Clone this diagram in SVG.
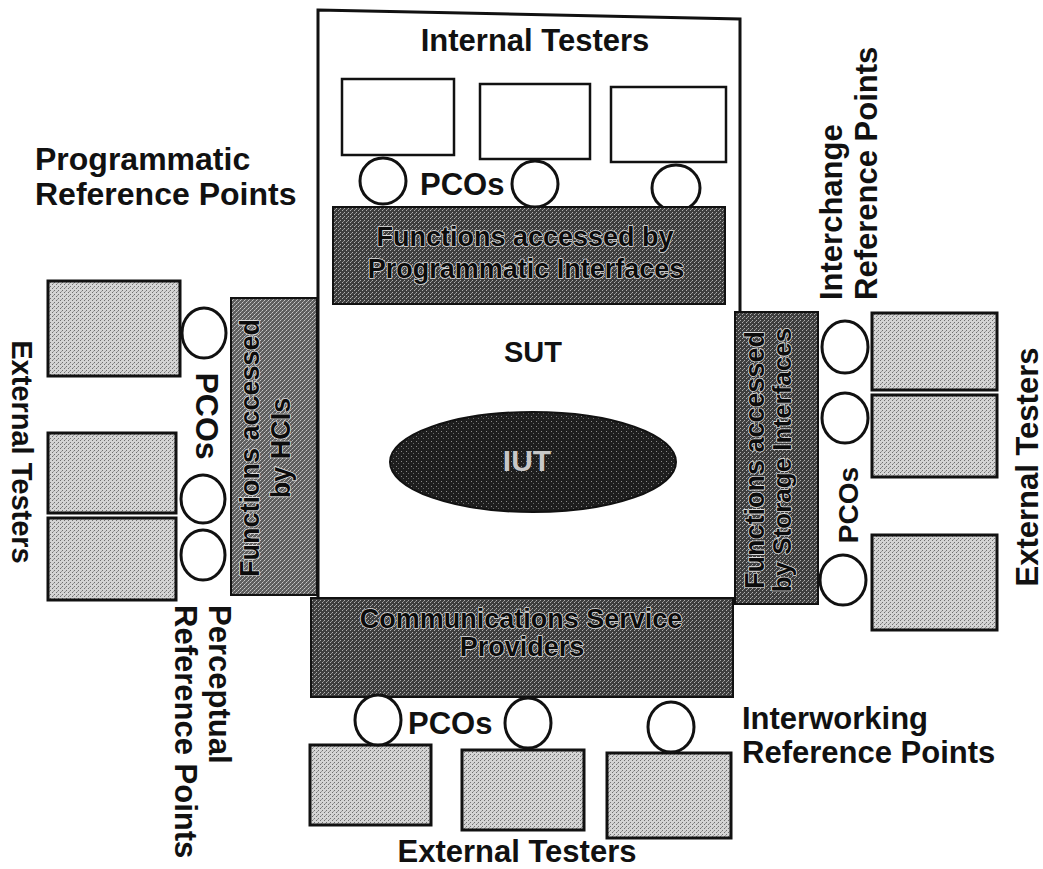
<svg xmlns="http://www.w3.org/2000/svg" width="1043" height="869" viewBox="0 0 1043 869">
<defs>
<pattern id="pLight" width="4" height="4" patternUnits="userSpaceOnUse"><rect width="4" height="4" fill="#d4d4d4"/><rect x="0" y="0" width="1" height="1" fill="#707070"/><rect x="2" y="2" width="1" height="1" fill="#707070"/><rect x="1" y="3" width="1" height="1" fill="#9a9a9a"/></pattern>
<pattern id="pDark" width="4" height="4" patternUnits="userSpaceOnUse"><rect width="4" height="4" fill="#3e3e3e"/><rect x="0" y="0" width="1" height="1" fill="#b0b0b0"/><rect x="2" y="2" width="1" height="1" fill="#b0b0b0"/><rect x="3" y="1" width="1" height="1" fill="#8a8a8a"/></pattern>
<pattern id="pMid" width="4" height="4" patternUnits="userSpaceOnUse"><rect width="4" height="4" fill="#5e5e5e"/><rect x="0" y="0" width="1" height="1" fill="#c8c8c8"/><rect x="2" y="2" width="1" height="1" fill="#c8c8c8"/><rect x="1" y="3" width="1" height="1" fill="#a0a0a0"/><rect x="3" y="1" width="1" height="1" fill="#a0a0a0"/></pattern>
<pattern id="pIut" width="5" height="5" patternUnits="userSpaceOnUse"><rect width="5" height="5" fill="#1e1e1e"/><rect x="1" y="1" width="1" height="1" fill="#8a8a8a"/><rect x="3" y="3" width="1" height="1" fill="#6a6a6a"/></pattern>
</defs>
<style>
text{font-family:"Liberation Sans",Arial,sans-serif;font-weight:bold;fill:#111}
.lbl{font-size:31px}
.band{font-size:27px;fill:#0c0c0c;stroke:#dcdcdc;stroke-width:1.6px;paint-order:stroke;stroke-linejoin:round}
.tb{fill:#fff;stroke:#111;stroke-width:2.5}
.gb{fill:url(#pLight);stroke:#111;stroke-width:3}
.pco{fill:#fff;stroke:#111;stroke-width:3}
.mid{text-anchor:middle}
</style>

<g id="sut">
<path d="M318,10 L740,19 L740,603 L318,600 Z" fill="#fff" stroke="#111" stroke-width="3"/>
<text x="533" y="362" class="mid" style="font-size:29px">SUT</text>
</g>

<g id="internal-testers">
<text x="535" y="51" class="mid" style="font-size:31px">Internal Testers</text>
<rect id="it1" x="342" y="79" width="112" height="76" class="tb"/>
<rect id="it2" x="480" y="84" width="110" height="75" class="tb"/>
<rect id="it3" x="611" y="87" width="115" height="75" class="tb"/>
<ellipse cx="383" cy="181" rx="23" ry="23" class="pco"/>
<ellipse cx="535" cy="184" rx="23" ry="23" class="pco"/>
<ellipse cx="676" cy="188" rx="24" ry="23" class="pco"/>
<text x="420" y="195" style="font-size:31px">PCOs</text>
</g>

<g id="prog-band">
<rect x="333" y="207" width="392" height="97" fill="url(#pDark)" stroke="#111" stroke-width="2"/>
<text x="525" y="246" class="band mid">Functions accessed by</text>
<text x="526" y="278" class="band mid">Programmatic Interfaces</text>
</g>

<g id="iut">
<ellipse cx="533" cy="462" rx="143" ry="50" fill="url(#pIut)" stroke="#111" stroke-width="2"/>
<text x="527" y="471" class="mid" style="font-size:30px;fill:#c8c8c8">IUT</text>
</g>

<g id="hci-band">
<rect x="231" y="298" width="86" height="297" fill="url(#pMid)" stroke="#111" stroke-width="2"/>
<text transform="translate(259,448) rotate(-90)" class="band mid">Functions accessed</text>
<text transform="translate(290,448) rotate(-90)" class="band mid">by HCIs</text>
</g>

<g id="storage-band">
<rect x="735" y="312" width="83" height="292" fill="url(#pDark)" stroke="#111" stroke-width="2"/>
<text transform="translate(764,460) rotate(-90)" class="band mid">Functions accessed</text>
<text transform="translate(791,460) rotate(-90)" class="band mid" style="font-size:26px">by Storage Interfaces</text>
</g>

<g id="comm-band">
<rect x="311" y="598" width="422" height="99" fill="url(#pDark)" stroke="#111" stroke-width="2"/>
<text x="521" y="628" class="band mid">Communications Service</text>
<text x="522" y="656" class="band mid">Providers</text>
</g>

<g id="left-testers">
<rect x="48" y="281" width="132" height="95" class="gb"/>
<rect x="48" y="433" width="128" height="80" class="gb"/>
<rect x="48" y="518" width="128" height="82" class="gb"/>
<ellipse cx="204" cy="333" rx="22" ry="25" class="pco"/>
<ellipse cx="203" cy="499" rx="22" ry="24" class="pco"/>
<ellipse cx="203" cy="555" rx="22" ry="25" class="pco"/>
<text transform="translate(196,416) rotate(90)" class="mid" style="font-size:32px">PCOs</text>
<text transform="translate(12,452) rotate(90)" class="mid" style="font-size:29px">External Testers</text>
</g>

<g id="right-testers">
<rect x="872" y="313" width="125" height="77" class="gb"/>
<rect x="872" y="395" width="125" height="82" class="gb"/>
<rect x="872" y="535" width="125" height="95" class="gb"/>
<ellipse cx="845" cy="347" rx="23" ry="26" class="pco"/>
<ellipse cx="845" cy="418" rx="23" ry="25" class="pco"/>
<ellipse cx="843" cy="580" rx="23" ry="25" class="pco"/>
<text transform="translate(858,505) rotate(-90)" class="mid" style="font-size:28px">PCOs</text>
<text transform="translate(1038,467) rotate(-90)" class="mid" style="font-size:31px">External Testers</text>
</g>

<g id="bottom-testers">
<rect x="310" y="745" width="121" height="80" class="gb"/>
<rect x="462" y="750" width="122" height="80" class="gb"/>
<rect x="607" y="753" width="124" height="85" class="gb"/>
<ellipse cx="378" cy="720" rx="23" ry="25" class="pco"/>
<ellipse cx="528" cy="723" rx="23" ry="25" class="pco"/>
<ellipse cx="671" cy="727" rx="23" ry="25" class="pco"/>
<text x="408" y="734" style="font-size:31px">PCOs</text>
<text x="517" y="862" class="mid" style="font-size:31px">External Testers</text>
</g>

<g id="ref-labels">
<text x="35" y="170" style="font-size:32px">Programmatic</text>
<text x="35" y="205" style="font-size:32px">Reference Points</text>
<text transform="translate(842,300) rotate(-90)" class="lbl">Interchange</text>
<text transform="translate(877,300) rotate(-90)" class="lbl">Reference Points</text>
<text transform="translate(209,605) rotate(90)" class="lbl">Perceptual</text>
<text transform="translate(175,605) rotate(90)" class="lbl">Reference Points</text>
<text x="742" y="729" class="lbl">Interworking</text>
<text x="742" y="763" class="lbl">Reference Points</text>
</g>

<g id="connectors"/>
</svg>
